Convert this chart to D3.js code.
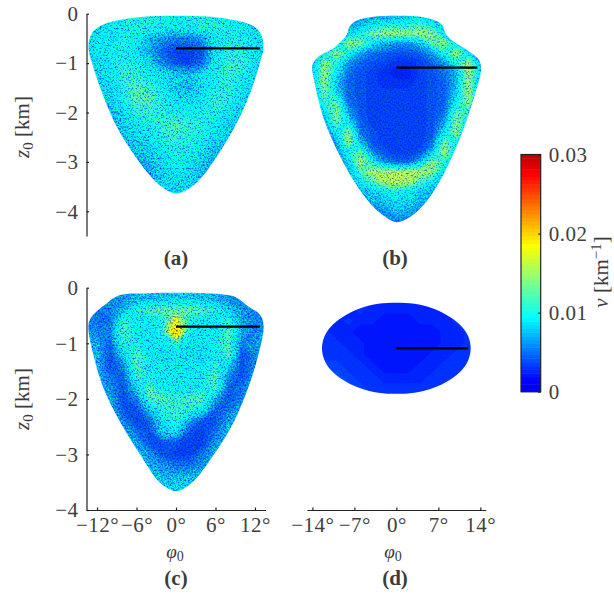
<!DOCTYPE html>
<meta charset="utf-8">
<style>

html, body {
  margin: 0;
  background: #fff;
}

svg {
  display: block;
  font-family: "Liberation Serif", serif;
  fill: #3c3c3c;
}

.axis path,
.axis line,
.bar-frame {
  stroke: #222;
  stroke-width: 1.2;
}

.axis text {
  font-size: 21px;
  letter-spacing: 0.5px;
  fill: #404040;
  font-family: "Liberation Serif", serif;
}

.label {
  font-size: 21px;
}

.phi-label {
  font-size: 19px;
}

.panel-name {
  font-size: 21px;
  font-weight: bold;
}

</style>
<body>
<script src="https://d3js.org/d3.v7.min.js"></script>
<script>

// all nu grids are in units of 0.001 km^-1
var zTicksTop = [0, -1, -2, -3, -4],
    zTicksLow = [0, -1, -2, -3, -4],
    phiTicksC = [-12, -6, 0, 6, 12],
    phiTicksD = [-14, -7, 0, 7, 14],
    nuTicks = [0, 10, 20, 30],
    gridPhi = [-14, -12, -10, -8, -6, -4, -2, 0, 2, 4, 6, 8, 10, 12, 14];

var jetStops = [0, 1.5, 9.4, 14, 18.5, 27.5, 30],
    jetColors = ["#0000f0", "#0000ff", "#00ffff", "#80ff80", "#ffff00", "#ff0000", "#bb0000"];

var zStepA = 0.25,
    nuA = [
  [8, 8, 9, 9, 10, 10, 10, 9, 10, 10, 10, 9, 9, 8, 8],
  [8, 8, 9, 10, 10.5, 10.5, 10, 9.5, 10, 10.5, 10.5, 10, 9, 8, 8],
  [8, 9, 9, 10, 9.5, 7, 6, 5.5, 5.5, 6.5, 9, 10, 10, 9, 8],
  [8, 9, 9.5, 10, 9, 6.5, 4.5, 3.5, 3.5, 4, 8.5, 10.5, 10.5, 9, 8],
  [8, 8, 9.5, 10.5, 9.5, 8, 5.5, 4, 3.5, 5, 9, 11, 11, 9, 8],
  [8, 8, 9, 11, 11, 9.5, 9, 8, 7.5, 9, 10, 11, 10, 8.5, 8],
  [8, 8, 8, 10.5, 12, 11, 9.5, 7.5, 7, 8.5, 10, 10.5, 9, 8, 8],
  [7, 7, 8, 10, 12, 12, 10, 9, 8.5, 9, 11, 10.5, 8.5, 8, 8],
  [7, 7, 7, 8.5, 10.5, 11, 10.5, 10, 9.5, 10, 10.5, 9, 8, 8, 8],
  [7, 7, 7, 8, 9, 10, 11, 12, 11, 10.5, 9, 8, 7.5, 7, 7],
  [7, 7, 7, 7.5, 8, 9, 10.5, 11, 10.5, 9.5, 8.5, 7.5, 7, 7, 7],
  [7, 7, 7, 7, 7.5, 8, 9.5, 10.5, 10, 9, 7.5, 7, 7, 7, 7],
  [7, 7, 7, 7, 6, 7, 8.5, 10, 9, 7.5, 6.5, 7, 7, 7, 7],
  [7, 7, 7, 7, 6, 6.5, 8, 9, 8.5, 7, 6, 7, 7, 7, 7],
  [7, 7, 7, 7, 7, 7, 8, 8, 8, 7.5, 7, 7, 7, 7, 7],
  [7, 7, 7, 7, 7, 7.5, 8, 8, 8, 8, 7, 7, 7, 7, 7]
];

var zStepB = 0.2,
    nuB = [
  [5.5, 5.5, 5.5, 5.5, 5.5, 6, 6, 6, 6.5, 7, 6.5, 5.5, 5.5, 5.5, 5.5],
  [5.5, 5.5, 5.5, 6, 7, 8, 9, 9.5, 10, 11, 9, 7, 5.5, 5.5, 5.5],
  [5.5, 5.5, 7, 8, 10, 13.5, 14.5, 14.5, 14, 14.5, 14, 9, 6.5, 5.5, 5.5],
  [5.5, 7, 9, 14, 13.5, 9, 7, 6, 6, 7.5, 12.5, 14, 9, 6.5, 5.5],
  [6.5, 10, 14, 10, 6.5, 5, 4.5, 4, 4, 4.5, 6.5, 10, 14.5, 9, 5.5],
  [7, 14, 10.5, 6, 4.5, 4, 3.5, 3, 3, 3.5, 4.5, 6, 10, 15, 7],
  [8, 14, 9, 5, 4, 3.5, 3, 2.5, 2.5, 3.5, 4, 5, 7, 14.5, 8],
  [8, 14, 7.5, 4.5, 4, 3.5, 3, 3, 3, 3.5, 4, 4.5, 7, 14.5, 7],
  [7, 13, 8.5, 4.5, 4, 3.5, 3.5, 3.5, 3.5, 3.5, 4, 4.5, 8, 14.5, 7],
  [7, 11, 12.5, 5, 4, 3.5, 3.5, 3.5, 3.5, 3.5, 4, 4.5, 9, 14, 7],
  [6, 8, 14, 6.5, 4, 3.5, 3.5, 3.5, 3.5, 3.5, 4, 5, 12.5, 11, 6.5],
  [5.5, 7, 12.5, 9, 4.5, 3.5, 3.5, 3.5, 3.5, 3.5, 4, 6.5, 14, 8, 5.5],
  [5.5, 5.5, 9, 14, 5, 4, 3.5, 3.5, 3.5, 3.5, 4, 9, 14, 7, 5.5],
  [5.5, 5.5, 6.5, 14, 7.5, 4, 3.5, 3.5, 3.5, 3.5, 5, 13, 10, 5.5, 5.5],
  [5.5, 5.5, 5.5, 10, 12.5, 5.5, 4, 3.5, 3.5, 4, 7.5, 15, 8, 5.5, 5.5],
  [5.5, 5.5, 5.5, 8, 15, 10, 6, 4.5, 4.5, 7.5, 14, 11, 6.5, 5.5, 5.5],
  [5.5, 5.5, 5.5, 6.5, 12, 15, 15, 15, 15, 15, 14, 8, 5.5, 5.5, 5.5],
  [5.5, 5.5, 5.5, 6.5, 9, 12, 15, 15.5, 15, 12, 9, 6.5, 5.5, 5.5, 5.5],
  [5.5, 5.5, 5.5, 5.5, 7, 8, 9, 10.5, 9, 8, 7, 5.5, 5.5, 5.5, 5.5],
  [5.5, 5.5, 5.5, 5.5, 5.5, 7, 7.5, 8.5, 8, 7, 6.5, 5.5, 5.5, 5.5, 5.5],
  [5.5, 5.5, 5.5, 5.5, 5.5, 5.5, 6, 7.5, 7, 5.5, 5.5, 5.5, 5.5, 5.5, 5.5],
  [5.5, 5.5, 5.5, 5.5, 5.5, 5.5, 5.5, 5.5, 5.5, 5.5, 5.5, 5.5, 5.5, 5.5, 5.5],
  [5.5, 5.5, 5.5, 5.5, 5.5, 5.5, 5.5, 5.5, 5.5, 5.5, 5.5, 5.5, 5.5, 5.5, 5.5]
];

var zStepC = 0.2,
    nuC = [
  [6, 6, 6, 6, 6.5, 7, 7, 7, 7, 7, 6.5, 6, 6, 6, 6],
  [6, 6, 6, 6, 7, 7.5, 7.5, 8, 8, 7.5, 7, 6, 6, 6, 6],
  [6, 5, 5.5, 7, 10.5, 12, 12.5, 12.5, 12.5, 12, 10.5, 8, 6, 5.5, 6],
  [6, 5, 5, 11, 9.5, 9, 10, 18, 10, 9, 9, 11, 6.5, 5.5, 6],
  [6.5, 5.5, 5.5, 12, 9, 9, 11, 22, 10, 9, 9, 12, 6.5, 5.5, 6.5],
  [7, 6.5, 4.5, 11, 10, 9, 9, 11, 9, 9, 9.5, 12, 5.5, 6, 7],
  [7.5, 7, 4, 8, 12, 9, 8.5, 9, 8.5, 8.5, 9.5, 12, 4, 5.5, 7],
  [7.5, 7, 4, 5.5, 12, 9.5, 9, 9, 9, 9, 11, 8, 4, 5.5, 7],
  [7.5, 7, 5, 4.5, 11, 10, 9, 9, 9, 9.5, 12, 5.5, 4, 6.5, 7],
  [7, 7, 5.5, 4, 8, 12, 9, 9, 9, 10, 11.5, 4.5, 5, 7, 7],
  [7, 7, 6.5, 4, 5.5, 12, 12, 11, 12, 12, 6.5, 4, 5.5, 7, 7],
  [7, 7, 7, 4, 4, 7.5, 10.5, 11, 10.5, 9, 4.5, 5, 7, 7, 7],
  [7, 7, 7, 5.5, 3.5, 4.5, 9, 11, 6.5, 4, 4, 6.5, 7, 7, 7],
  [7, 7, 7, 7, 5, 4, 8, 8.5, 4, 3.5, 5, 7, 7, 7, 7],
  [7, 7, 7, 7, 6.5, 4, 4, 4, 3.5, 3.5, 6, 7, 7, 7, 7],
  [7.5, 7.5, 7.5, 7.5, 7, 6, 4, 3.5, 3.5, 5, 7, 7.5, 7.5, 7.5, 7.5],
  [7.5, 7.5, 7.5, 7.5, 7.5, 7, 6, 5, 5, 6, 7, 7.5, 7.5, 7.5, 7.5],
  [7.5, 7.5, 7.5, 7.5, 7.5, 7.5, 7, 7, 7, 7, 7.5, 7.5, 7.5, 7.5, 7.5],
  [8, 8, 8, 8, 8, 8, 8, 8, 8, 8, 8, 8, 8, 8, 8],
  [8, 8, 8, 8, 8, 8, 8, 8, 8, 8, 8, 8, 8, 8, 8]
];

var zStepD = 0.2,
    nuD = [
  [3, 3, 3, 3, 3, 3, 3, 3, 3, 3, 3, 3, 3, 3, 3],
  [3, 3, 3, 3, 3, 3, 3, 3, 3, 3, 3, 3, 3, 3, 3],
  [3, 3, 3, 2.5, 3, 2.5, 2.5, 2.5, 2.5, 2.5, 2.5, 3, 2.5, 3, 3],
  [3, 3, 2.5, 3, 2.5, 2.5, 2, 2, 2, 2.5, 2.5, 2.5, 3, 3, 3],
  [3, 3, 2.5, 2.5, 2, 2, 2, 2, 2, 2, 2, 2.5, 2.5, 3, 3],
  [3, 3, 3, 2.5, 2.5, 2, 2, 2, 2, 2, 2, 2.5, 2.5, 3, 3],
  [3, 3, 3, 3, 2.5, 2, 2, 2, 2, 2, 2.5, 2.5, 3, 3, 3],
  [3.5, 3.5, 3.5, 3, 3, 2.5, 2, 2, 2, 2.5, 2.5, 3, 3, 3, 3],
  [4, 4, 4, 3.5, 3, 3, 2.5, 2.5, 2.5, 2.5, 3, 3, 3, 3, 3],
  [4, 4, 4, 4, 3.5, 3, 3, 3, 3, 3, 3, 3, 3, 3, 3],
  [4, 4, 4, 4, 3.5, 3.5, 3, 3, 3, 3, 3, 3, 3, 3, 3]
];

// outlines, [phi in degrees, z in km]
var outlineA = [[0, -0.04], [-5, -0.06], [-9, -0.14], [-11.5, -0.25], [-12.8, -0.4], [-13.3, -0.67], [-12.6, -1.07], [-11, -1.68], [-9, -2.29], [-6.5, -2.83], [-4, -3.27], [-1.9, -3.53], [0, -3.64], [2.1, -3.53], [4.15, -3.27], [6.7, -2.79], [9.2, -2.22], [11.25, -1.61], [12.75, -1], [13.3, -0.67], [12.85, -0.4], [11.75, -0.25], [9.2, -0.14], [5.2, -0.06]],
    outlineB = [[0, -0.04], [-3.8, -0.06], [-6.6, -0.14], [-7.8, -0.26], [-8.3, -0.43], [-10.5, -0.7], [-13, -0.87], [-14, -1.04], [-13.6, -1.41], [-12.2, -2.09], [-9.9, -2.76], [-7.15, -3.37], [-4.35, -3.84], [-1.85, -4.11], [0, -4.22], [2.35, -4.11], [5.15, -3.78], [7.9, -3.24], [10.7, -2.49], [13, -1.68], [14.1, -1.14], [13.8, -0.94], [11.85, -0.74], [9.6, -0.57], [8.2, -0.4], [7.65, -0.23], [6.25, -0.13], [4, -0.06]],
    outlineC = [[-8.7, -0.14], [-10.5, -0.28], [-12.8, -0.52], [-13.3, -0.67], [-12.8, -1.09], [-11, -1.81], [-8.5, -2.41], [-5.4, -3.01], [-2.4, -3.51], [0, -3.66], [2.4, -3.51], [5.7, -3.01], [8.8, -2.41], [11.3, -1.69], [13.1, -0.91], [13.3, -0.67], [12.8, -0.49], [11, -0.34], [8.8, -0.16], [4.2, -0.1], [0, -0.09], [-4.4, -0.1]],
    outlineD = [[-12.4, -1.09], [-12, -0.88], [-11, -0.71], [-9, -0.53], [-6, -0.37], [-3, -0.29], [0, -0.27], [3, -0.29], [6, -0.37], [9, -0.53], [11, -0.71], [12, -0.88], [12.4, -1.09], [12, -1.3], [11, -1.47], [9, -1.65], [6, -1.81], [3, -1.89], [0, -1.91], [-3, -1.89], [-6, -1.81], [-9, -1.65], [-11, -1.47], [-12, -1.3]];

// black reference lines: [phi start, phi end, z]
var lineA = [0, 12.8, -0.7],
    lineB = [0, 13.5, -1.09],
    lineC = [0, 12.8, -0.7],
    lineD = [0, 12, -1.09];

var width = 614,
    height = 595;

var svg = d3.select("body").append("svg")
    .attr("width", width)
    .attr("height", height);

var color = d3.scaleLinear().domain(jetStops).range(jetColors).clamp(true);

var nLevels = 64,
    levels = d3.range(nLevels).map(function(i) { return i * 30 / nLevels; });

// x scales of the left and the right column, y scales of the two rows
var xLeft = d3.scaleLinear().domain([-13.6, 13.6]).range([86.5, 265.5]),
    xRight = d3.scaleLinear().domain([-14.9, 14.9]).range([307, 485.7]),
    yTop = d3.scaleLinear().domain([0, -4.5]).range([13.7, 236]),
    yLow = d3.scaleLinear().domain([0, -4]).range([287.7, 510]);

var panels = [
  {id: "a", x: xLeft, y: yTop, grid: nuA, step: zStepA, outline: outlineA, line: lineA, grain: 0.38},
  {id: "b", x: xRight, y: yTop, grid: nuB, step: zStepB, outline: outlineB, line: lineB, grain: 0.3},
  {id: "c", x: xLeft, y: yLow, grid: nuC, step: zStepC, outline: outlineC, line: lineC, grain: 0.38},
  {id: "d", x: xRight, y: yLow, grid: nuD, step: zStepD, outline: outlineD, line: lineD, grain: 0.06}
];

panels.forEach(drawPanel);

// Speckle is only a look: it pushes colours along the blue/green axis of the
// colormap. It carries no values, those all come from the nu grids above.
function addGrain(p) {
  var s = p.grain;
  var filter = svg.append("filter")
      .attr("id", "grain-" + p.id)
      .attr("filterUnits", "userSpaceOnUse")
      .attr("x", 0).attr("y", 0)
      .attr("width", width).attr("height", height)
      .attr("color-interpolation-filters", "sRGB");
  filter.append("feTurbulence")
      .attr("type", "fractalNoise")
      .attr("baseFrequency", 0.6)
      .attr("numOctaves", 2)
      .attr("seed", 7)
      .attr("result", "noise");
  filter.append("feColorMatrix")
      .attr("in", "noise")
      .attr("type", "matrix")
      .attr("values", [
        [3 * s, 0, 0, 0, 0.5 - 1.5 * s].join(" "),
        [3 * s, 0, 0, 0, 0.5 - 1.5 * s].join(" "),
        [-1.5 * s, 0, 0, 0, 0.5 + 0.75 * s].join(" "),
        "0 0 0 0 1"
      ].join(" "))
      .attr("result", "speck");
  filter.append("feGaussianBlur")
      .attr("in", "speck")
      .attr("stdDeviation", 0.45)
      .attr("result", "soft");
  filter.append("feComposite")
      .attr("in", "SourceGraphic")
      .attr("in2", "soft")
      .attr("operator", "arithmetic")
      .attr("k1", 2)
      .attr("k2", 0)
      .attr("k3", 0)
      .attr("k4", 0);
}

function drawPanel(p) {
  var g = svg.append("g"),
      n = gridPhi.length,
      m = p.grid.length,
      phiStep = gridPhi[1] - gridPhi[0];

  var outlinePath = d3.line()
      .x(function(d) { return p.x(d[0]); })
      .y(function(d) { return p.y(d[1]); })
      .curve(d3.curveCatmullRomClosed.alpha(0.5));

  g.append("clipPath")
      .attr("id", "clip-" + p.id)
    .append("path")
      .attr("d", outlinePath(p.outline));

  addGrain(p);

  var contours = d3.contours()
      .size([n, m])
      .thresholds(levels)(d3.merge(p.grid));

  // contour coordinates have grid point i at i + 0.5
  var path = d3.geoPath(d3.geoTransform({
    point: function(u, v) {
      this.stream.point(
        p.x(gridPhi[0] + (u - 0.5) * phiStep),
        p.y(-(v - 0.5) * p.step));
    }
  }));

  g.append("g")
      .attr("clip-path", "url(#clip-" + p.id + ")")
    .append("g")
      .attr("filter", "url(#grain-" + p.id + ")")
    .selectAll("path")
    .data(contours)
    .enter().append("path")
      .attr("d", path)
      .attr("fill", function(d) { return color(d.value + 15 / nLevels); });

  g.append("line")
      .attr("x1", p.x(p.line[0]))
      .attr("x2", p.x(p.line[1]))
      .attr("y1", p.y(p.line[2]))
      .attr("y2", p.y(p.line[2]))
      .attr("stroke", "#000")
      .attr("stroke-width", 2.2);
}

function minus(s) {
  return String(s).replace("-", "\u2212");
}

function drawLeftAxis(scale, ticks) {
  var axis = d3.axisLeft(scale)
      .tickValues(ticks)
      .tickSizeInner(-2.5)
      .tickSizeOuter(0)
      .tickPadding(8)
      .tickFormat(minus);
  var g = svg.append("g")
      .attr("class", "axis")
      .attr("transform", "translate(86.5,0)")
      .call(axis);
  g.select(".domain").attr("fill", "none");
}

function drawBottomAxis(scale, ticks, y) {
  var axis = d3.axisBottom(scale)
      .tickValues(ticks)
      .tickSizeInner(-2.5)
      .tickSizeOuter(0)
      .tickPadding(7)
      .tickFormat(function(d) { return minus(d) + "\u00b0"; });
  var g = svg.append("g")
      .attr("class", "axis")
      .attr("transform", "translate(0," + y + ")")
      .call(axis);
  g.select(".domain").attr("fill", "none");
}

drawLeftAxis(yTop, zTicksTop);
drawLeftAxis(yLow, zTicksLow);
drawBottomAxis(xLeft, phiTicksC, 510);
drawBottomAxis(xRight, phiTicksD, 510);

function zLabel(cy) {
  var t = svg.append("text")
      .attr("class", "label")
      .attr("transform", "translate(29," + cy + ") rotate(-90)")
      .attr("text-anchor", "middle");
  t.append("tspan").attr("font-style", "italic").text("z");
  t.append("tspan").attr("dy", 4).attr("font-size", 15).text("0");
  t.append("tspan").attr("dy", -4).text(" [km]");
}
zLabel(127);
zLabel(399);

function phiLabel(cx) {
  var t = svg.append("text")
      .attr("class", "phi-label")
      .attr("x", cx)
      .attr("y", 558)
      .attr("text-anchor", "middle");
  t.append("tspan").attr("font-style", "italic").text("\u03c6");
  t.append("tspan").attr("dy", 3).attr("font-size", 14).text("0");
}
phiLabel(175);
phiLabel(393);

var panelNames = [
  {name: "(a)", x: 176, y: 265},
  {name: "(b)", x: 395, y: 265},
  {name: "(c)", x: 176, y: 585},
  {name: "(d)", x: 395, y: 585}
];

svg.selectAll(".panel-name")
    .data(panelNames)
  .enter().append("text")
    .attr("class", "panel-name")
    .attr("x", function(d) { return d.x; })
    .attr("y", function(d) { return d.y; })
    .attr("text-anchor", "middle")
    .text(function(d) { return d.name; });

// colour bar
var barY = d3.scaleLinear().domain([0, 30]).range([391.7, 154.5]),
    barX = 521,
    barW = 19.7;

svg.selectAll(".bar-cell")
    .data(levels)
  .enter().append("rect")
    .attr("class", "bar-cell")
    .attr("x", barX)
    .attr("width", barW)
    .attr("y", function(d) { return barY(d + 30 / nLevels); })
    .attr("height", function(d) { return barY(d) - barY(d + 30 / nLevels) + 0.5; })
    .attr("fill", function(d) { return color(d + 15 / nLevels); });

svg.append("rect")
    .attr("class", "bar-frame")
    .attr("x", barX)
    .attr("y", barY(30))
    .attr("width", barW)
    .attr("height", barY(0) - barY(30))
    .attr("fill", "none");

var barAxis = d3.axisRight(barY)
    .tickValues(nuTicks)
    .tickSizeInner(-2.5)
    .tickSizeOuter(0)
    .tickPadding(8)
    .tickFormat(function(d) { return d === 0 ? "0" : d3.format(".2f")(d / 1000); });

var barAxisG = svg.append("g")
    .attr("class", "axis")
    .attr("transform", "translate(" + (barX + barW) + ",0)")
    .call(barAxis);
barAxisG.select(".domain").remove();

var nuLabel = svg.append("text")
    .attr("class", "label")
    .attr("transform", "translate(608,272) rotate(-90)")
    .attr("text-anchor", "middle");
nuLabel.append("tspan").attr("font-style", "italic").text("\u03bd");
nuLabel.append("tspan").text(" [km");
nuLabel.append("tspan").attr("dy", -7).attr("font-size", 15).text("\u22121");
nuLabel.append("tspan").attr("dy", 7).text("]");

</script>
